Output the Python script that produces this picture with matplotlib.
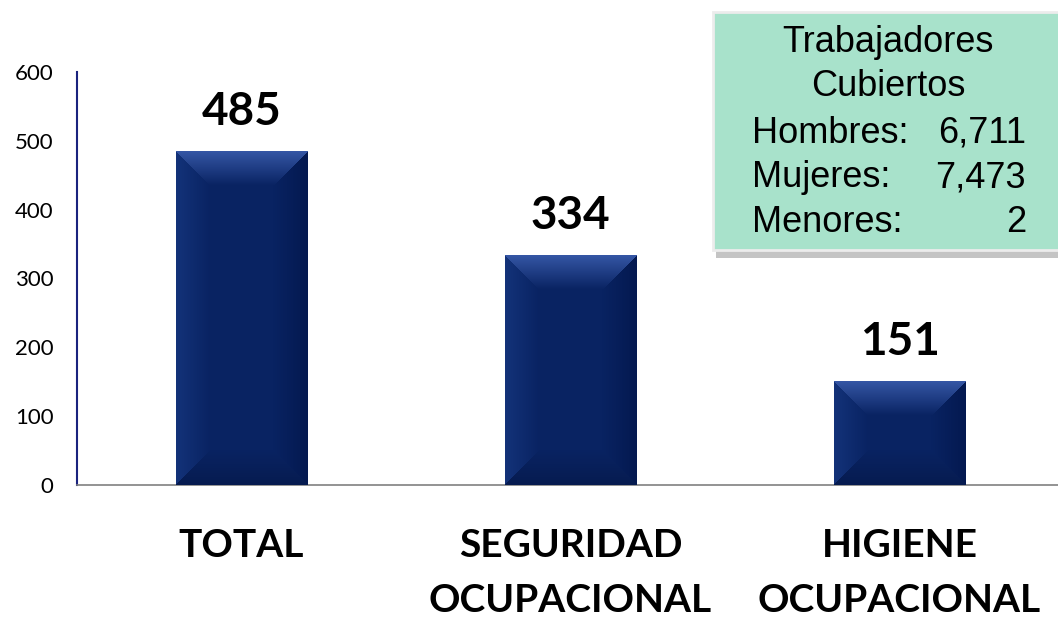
import matplotlib
matplotlib.use("Agg")
import matplotlib.pyplot as plt
import numpy as np
from matplotlib.patches import FancyBboxPatch

categories = ["TOTAL", "SEGURIDAD\nOCUPACIONAL", "HIGIENE\nOCUPACIONAL"]
values = [485, 334, 151]
yticks = [0, 100, 200, 300, 400, 500, 600]
box_title = ["Trabajadores", "Cubiertos"]
box_labels = ["Hombres:", "Mujeres:", "Menores:"]
box_values = ["6,711", "7,473", "2"]

W, H = 1058, 621
fig = plt.figure(figsize=(W / 100, H / 100), dpi=100)
ax = fig.add_axes([77 / W, 1 - 485 / H, (W - 77) / W, (485 - 72) / H])

xlim = (-0.5, -0.5 + (W - 77) / 329)
ylim = (0, 600)
ax.set_xlim(*xlim)
ax.set_ylim(*ylim)

x = list(range(len(categories)))
bars = ax.bar(x, values, width=0.40, color="#0a2462", edgecolor="none", zorder=2)

base = np.array([0x09, 0x23, 0x62]) / 255.0
fig.canvas.draw()
for b in bars:
    bb = b.get_window_extent()
    pw, ph = int(round(bb.width)), int(round(bb.height))
    bev = 34
    yy, xx = np.mgrid[0:ph, 0:pw]
    dl = xx
    dr = pw - 1 - xx
    dt = yy
    db = ph - 1 - yy
    img = np.tile(base, (ph, pw, 1)).astype(float)
    dmin = np.minimum(np.minimum(dl, dr), np.minimum(dt, db))
    top = (dt == dmin) & (dt < bev)
    bot = (db == dmin) & (db < bev) & ~top
    left = (dl == dmin) & (dl < bev) & ~top & ~bot
    right = (dr == dmin) & (dr < bev) & ~top & ~bot & ~left
    def shade(mask, d, amt):
        f = (1 - d / bev)[mask][:, None]
        img[mask] = np.clip(img[mask] + amt * f, 0, 1)
    shade(top, dt, np.array([0.17, 0.20, 0.26]))
    shade(left, dl, np.array([0.04, 0.06, 0.09]))
    shade(right, dr, np.array([-0.02, -0.04, -0.07]))
    shade(bot, db, np.array([-0.01, -0.03, -0.07]))
    x0, y0 = b.get_x(), b.get_y()
    im = ax.imshow(img, extent=(x0, x0 + b.get_width(), y0, y0 + b.get_height()),
                   origin="upper", aspect="auto", zorder=3, interpolation="bilinear")
    im.set_clip_path(b)

ax.set_xlim(*xlim)
ax.set_ylim(*ylim)

for xi, v in zip(x, values):
    ax.text(xi, v + 26, str(v), ha="center", va="bottom", fontsize=33, fontweight="bold",
            family="Lato", color="black", zorder=4)

ax.set_yticks(yticks)
ax.set_yticklabels([str(t) for t in yticks], fontsize=16, family="Lato")
ax.set_xticks(x)
ax.set_xticklabels(categories, fontsize=28, fontweight="bold", family="Lato", linespacing=1.7)
ax.tick_params(axis="y", length=0, pad=17)
ax.tick_params(axis="x", length=0, pad=31)

ax.spines["top"].set_visible(False)
ax.spines["right"].set_visible(False)
ax.spines["left"].set_color("#1a237e")
ax.spines["left"].set_linewidth(1.5)
ax.spines["bottom"].set_color("#808080")
ax.spines["bottom"].set_linewidth(1.2)

# info box
shadow = FancyBboxPatch((716 / W, 1 - 258 / H), 360 / W, 244 / H, boxstyle="square,pad=0",
                        transform=fig.transFigure, facecolor="#c4c4c4", edgecolor="none", zorder=5)
fig.patches.append(shadow)
box = FancyBboxPatch((713 / W, 1 - 250 / H), 360 / W, 238 / H, boxstyle="square,pad=0",
                     transform=fig.transFigure, facecolor="#a8e2cb", edgecolor="#ececec",
                     linewidth=2, zorder=6)
fig.patches.append(box)

ys = [43, 87]
for t, yv in zip(box_title, ys):
    fig.text(888 / W, 1 - yv / H, t, ha="center", va="center", fontsize=26,
             family="Liberation Sans", zorder=7)
for i, (lb, vl) in enumerate(zip(box_labels, box_values)):
    yv = 133 + 45 * i
    fig.text(752 / W, 1 - yv / H, lb, ha="left", va="center", fontsize=26,
             family="Liberation Sans", zorder=7)
    fig.text(1026 / W, 1 - yv / H, vl, ha="right", va="center", fontsize=26,
             family="Liberation Sans", zorder=7)

fig.savefig("out.png", dpi=100)
